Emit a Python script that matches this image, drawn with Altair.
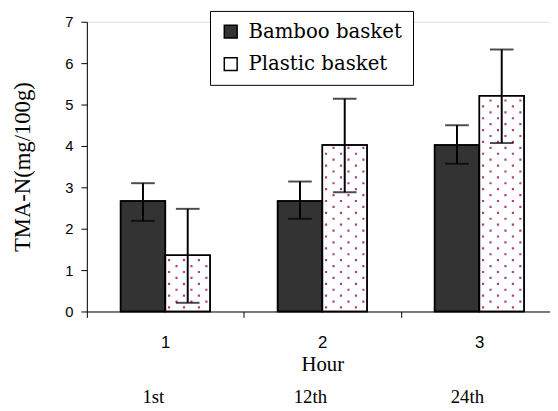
import altair as alt
import pandas as pd

# ---- data ----
hours = ["1", "2", "3"]
hour_names = ["1st", "12th", "24th"]
series = ["Bamboo basket", "Plastic basket"]
bamboo_mean = [2.67, 2.67, 4.02]
bamboo_low = [2.19, 2.24, 3.57]
bamboo_high = [3.10, 3.14, 4.50]
plastic_mean = [1.36, 4.02, 5.21]
plastic_low = [0.21, 2.88, 4.07]
plastic_high = [2.48, 5.14, 6.33]

BW = 0.285  # bar width in category units
rows = []
for i, h in enumerate(hours):
    c = i + 1
    rows.append(dict(hour=h, series=series[0], x0=c - BW, x1=c, xm=c - BW / 2, base=0.0,
                     mean=bamboo_mean[i], low=bamboo_low[i], high=bamboo_high[i]))
    rows.append(dict(hour=h, series=series[1], x0=c, x1=c + BW, xm=c + BW / 2, base=0.0,
                     mean=plastic_mean[i], low=plastic_low[i], high=plastic_high[i]))
df = pd.DataFrame(rows)

# dotted texture columns inside the plastic bars
NCOL = 6
dot_rows = []
for i in range(len(hours)):
    c = i + 1
    for k in range(NCOL):
        dot_rows.append(dict(xd=c + (k + 0.5) * BW / NCOL, base=0.0,
                             top=plastic_mean[i], parity=k % 2))
dots = pd.DataFrame(dot_rows)

xscale = alt.Scale(domain=[0.5, 3.45], nice=False, zero=False)
yscale = alt.Scale(domain=[0, 7], nice=False)

SERIF = "Liberation Serif"
SANS = "Liberation Sans"

main_x_axis = alt.Axis(
    orient="bottom", values=[0.5, 1.5, 2.5],
    labelExpr="datum.value < 1 ? '1' : (datum.value < 2 ? '2' : '3')",
    labelOffset=79.6, labelFlush=False, labelOverlap=False,
    tickSize=6, tickColor="black", domainColor="black", grid=False,
    labelFont=SANS, labelFontSize=17, labelColor="black",
    labelBaseline="alphabetic", labelPadding=31,
    title="Hour", titleFont=SERIF, titleFontSize=21,
    titleFontWeight="normal", titleColor="black",
    titleX=239, titleY=60, titleBaseline="alphabetic", titleAlign="center",
)

second_x_axis = alt.Axis(
    orient="bottom", values=[0.5, 1.5, 2.5],
    labelExpr="datum.value < 1 ? '1st' : (datum.value < 2 ? '12th' : '24th')",
    labelOffset=67, labelFlush=False, labelOverlap=False,
    domain=False, ticks=False, tickSize=0, grid=False,
    labelFont=SERIF, labelFontSize=19, labelColor="black",
    labelBaseline="alphabetic", labelPadding=92, title=None,
)

y_axis = alt.Axis(
    values=list(range(8)), tickSize=6, tickColor="black", domainColor="black",
    grid=False, labelFont=SANS, labelFontSize=15, labelColor="black",
    labelPadding=8,
    title="TMA-N(mg/100g)", titleFont=SERIF, titleFontSize=23,
    titleFontWeight="normal", titleColor="black",
    titleX=-65, titleY=147, titleAlign="center", titleBaseline="middle",
)


def Y(field):
    return alt.Y(field, scale=yscale, axis=y_axis)


bars = alt.Chart(df).mark_bar(stroke="black", strokeWidth=1.5).encode(
    x=alt.X("x0:Q", scale=xscale, axis=main_x_axis),
    x2="x1:Q",
    y=Y("base:Q"),
    y2="mean:Q",
    color=alt.Color(
        "series:N",
        scale=alt.Scale(domain=series, range=["#333333", "#ffffff"]),
        legend=alt.Legend(
            orient="none", legendX=125, legendY=-11, title=None,
            strokeColor="black", fillColor="white", padding=11,
            labelFont="DejaVu Serif", labelFontSize=20, labelColor="black",
            symbolType="square", symbolSize=170, symbolStrokeColor="black",
            symbolStrokeWidth=1.5, rowPadding=13, labelOffset=8,
        ),
    ),
)

DOT = "#b0407f"
dots_even = alt.Chart(dots).transform_filter("datum.parity == 0").mark_rule(
    color=DOT, strokeWidth=2.2, strokeDash=[2.2, 9.8], strokeDashOffset=9,
    strokeCap="butt",
).encode(
    x=alt.X("xd:Q", scale=xscale, axis=None),
    y=Y("base:Q"),
    y2="top:Q",
)

dots_odd = alt.Chart(dots).transform_filter("datum.parity == 1").mark_rule(
    color=DOT, strokeWidth=2.2, strokeDash=[2.2, 9.8], strokeDashOffset=3,
    strokeCap="butt",
).encode(
    x=alt.X("xd:Q", scale=xscale, axis=None),
    y=Y("base:Q"),
    y2="top:Q",
)

outline = alt.Chart(df).mark_bar(fillOpacity=0, stroke="black", strokeWidth=1.5).encode(
    x=alt.X("x0:Q", scale=xscale, axis=None),
    x2="x1:Q",
    y=Y("base:Q"),
    y2="mean:Q",
)

err = alt.Chart(df).mark_rule(color="black", strokeWidth=2).encode(
    x=alt.X("xm:Q", scale=xscale, axis=None),
    y=Y("low:Q"),
    y2="high:Q",
)

caps_hi = alt.Chart(df).mark_tick(color="black", orient="horizontal", size=24, thickness=2).encode(
    x=alt.X("xm:Q", scale=xscale, axis=second_x_axis),
    y=Y("high:Q"),
)

caps_lo = alt.Chart(df).mark_tick(color="black", orient="horizontal", size=24, thickness=2).encode(
    x=alt.X("xm:Q", scale=xscale, axis=None),
    y=Y("low:Q"),
)

chart = alt.layer(bars, dots_even, dots_odd, outline, err, caps_hi, caps_lo).resolve_axis(
    x="independent"
).properties(
    width=470, height=294,
    autosize=alt.AutoSizeParams(type="none"),
    padding={"left": 80, "top": 11, "right": 0, "bottom": 98},
).configure_view(stroke=None).configure(background="white")

chart.save("out.html", embed_options={"renderer": "svg", "actions": False})
